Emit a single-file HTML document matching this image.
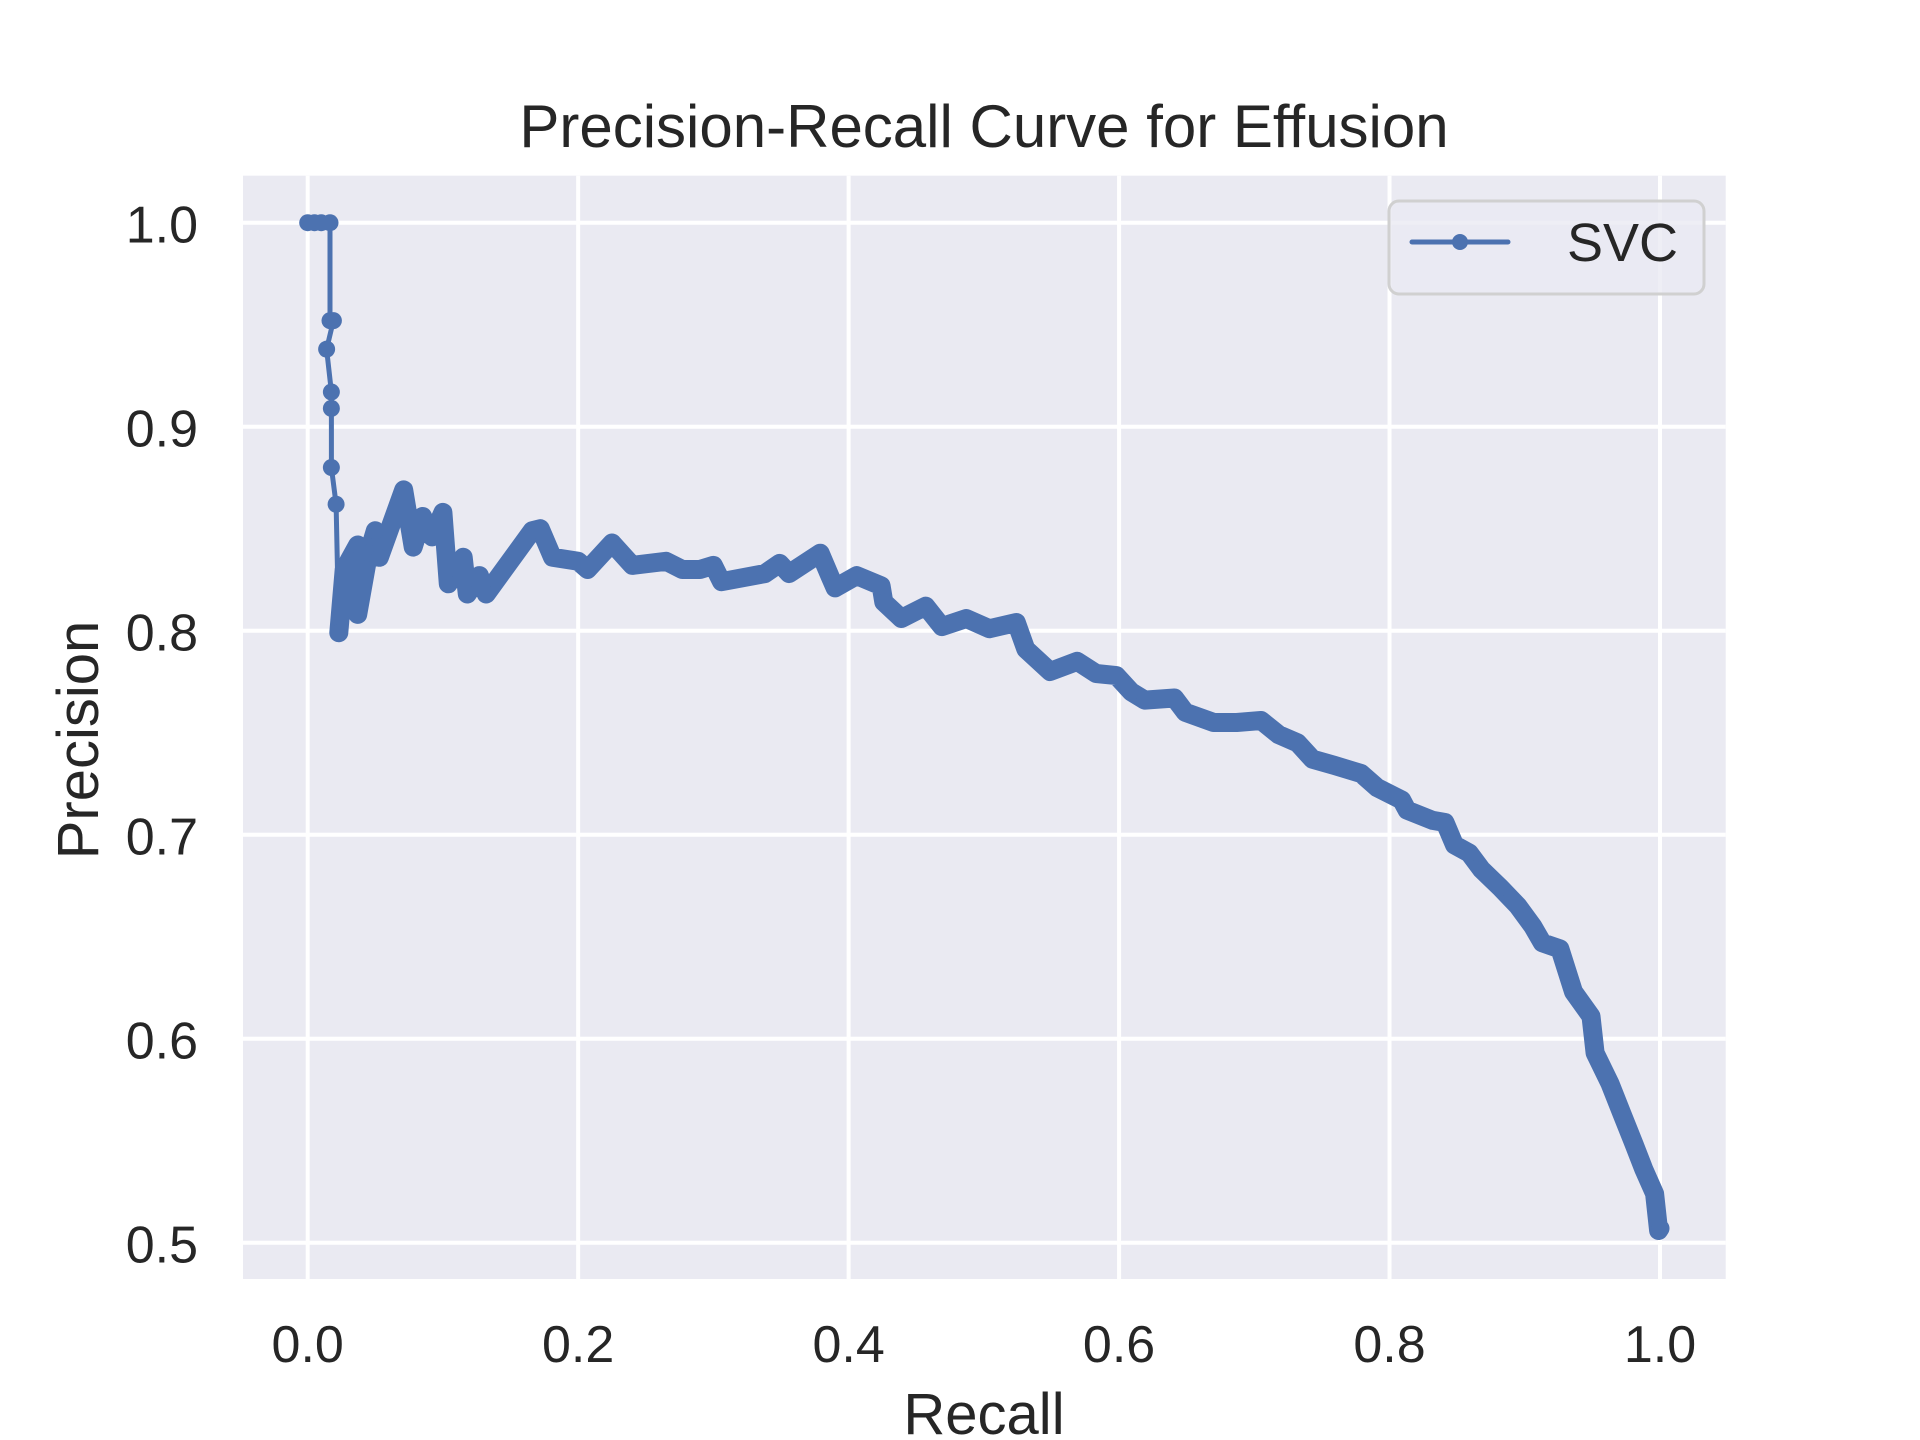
<!DOCTYPE html>
<html><head><meta charset="utf-8">
<style>
html,body{margin:0;padding:0;background:#fff;}
svg{display:block;font-family:"Liberation Sans",Arial,sans-serif;}
</style></head>
<body>
<svg id="chart" width="1920" height="1440" viewBox="0 0 1920 1440" xmlns="http://www.w3.org/2000/svg">
  <rect x="0" y="0" width="1920" height="1440" fill="#ffffff"/>
  <rect x="243" y="175.7" width="1482.7" height="1103.3" fill="#eaeaf2"/>
  <g id="grid"></g>
  <g id="ticks"></g>
  <g id="series"></g>
  <text x="984" y="147" font-size="60" fill="#262626" text-anchor="middle">Precision-Recall Curve for Effusion</text>
  <text x="984" y="1434" font-size="58" fill="#262626" text-anchor="middle">Recall</text>
  <text transform="translate(98,740) rotate(-90)" font-size="58" fill="#262626" text-anchor="middle">Precision</text>
  <g>
    <rect x="1389" y="201" width="315" height="93" rx="10" fill="#eaeaf2" fill-opacity="0.8" stroke="#d0d0d0" stroke-width="3"/>
    <line x1="1412" y1="242" x2="1508" y2="242" stroke="#4c72b0" stroke-width="5" stroke-linecap="round"/>
    <circle cx="1460" cy="242" r="8" fill="#4c72b0"/>
    <text x="1567" y="261" font-size="54" fill="#262626">SVC</text>
  </g>
</svg>
<script>
const xTicks = [0.0, 0.2, 0.4, 0.6, 0.8, 1.0];
const xTickLabels = ["0.0", "0.2", "0.4", "0.6", "0.8", "1.0"];
const yTicks = [0.5, 0.6, 0.7, 0.8, 0.9, 1.0];
const yTickLabels = ["0.5", "0.6", "0.7", "0.8", "0.9", "1.0"];
const recall = [0, 0.005, 0.010, 0.0165, 0.0165, 0.019, 0.014, 0.0175, 0.0175, 0.0175, 0.021, 0.023, 0.027, 0.037, 0.030, 0.040, 0.037, 0.045, 0.050, 0.053, 0.071, 0.078, 0.085, 0.092, 0.100, 0.104, 0.115, 0.118, 0.127, 0.132, 0.166, 0.172, 0.181, 0.200, 0.207, 0.225, 0.240, 0.265, 0.277, 0.290, 0.300, 0.306, 0.338, 0.349, 0.356, 0.379, 0.386, 0.390, 0.406, 0.424, 0.426, 0.439, 0.457, 0.469, 0.487, 0.504, 0.524, 0.531, 0.549, 0.569, 0.583, 0.598, 0.609, 0.619, 0.641, 0.649, 0.670, 0.687, 0.705, 0.718, 0.732, 0.743, 0.759, 0.779, 0.791, 0.809, 0.813, 0.832, 0.841, 0.848, 0.859, 0.868, 0.882, 0.895, 0.906, 0.913, 0.926, 0.936, 0.949, 0.952, 0.963, 0.972, 0.981, 0.988, 0.996, 0.999, 1.000];
const precision = [1.0, 1.0, 1.0, 1.0, 0.952, 0.952, 0.938, 0.917, 0.909, 0.880, 0.862, 0.799, 0.830, 0.842, 0.815, 0.835, 0.808, 0.838, 0.849, 0.836, 0.869, 0.841, 0.856, 0.846, 0.858, 0.823, 0.836, 0.818, 0.827, 0.818, 0.849, 0.850, 0.836, 0.834, 0.830, 0.843, 0.832, 0.834, 0.830, 0.830, 0.832, 0.824, 0.828, 0.833, 0.828, 0.838, 0.827, 0.821, 0.827, 0.822, 0.814, 0.806, 0.812, 0.802, 0.806, 0.801, 0.804, 0.791, 0.780, 0.785, 0.779, 0.778, 0.770, 0.766, 0.767, 0.760, 0.755, 0.755, 0.756, 0.749, 0.745, 0.737, 0.734, 0.730, 0.723, 0.717, 0.712, 0.707, 0.706, 0.695, 0.691, 0.683, 0.674, 0.665, 0.655, 0.647, 0.644, 0.623, 0.611, 0.593, 0.578, 0.563, 0.548, 0.536, 0.524, 0.506, 0.507];

const NS = "http://www.w3.org/2000/svg";
const X0 = 307.7, XS = 1352.3, Y1 = 222.7, YS = 2040;
function xs(v){ return X0 + v * XS; }
function ys(v){ return Y1 + (1 - v) * YS; }
const grid = document.getElementById('grid');
const ticks = document.getElementById('ticks');
xTicks.forEach((t, i) => {
  const l = document.createElementNS(NS, 'line');
  l.setAttribute('x1', xs(t)); l.setAttribute('x2', xs(t));
  l.setAttribute('y1', 175.7); l.setAttribute('y2', 1279);
  l.setAttribute('stroke', '#ffffff'); l.setAttribute('stroke-width', 4);
  
  
  grid.appendChild(l);
  const tx = document.createElementNS(NS, 'text');
  tx.setAttribute('x', xs(t)); tx.setAttribute('y', 1362);
  tx.setAttribute('font-size', 52); tx.setAttribute('fill', '#262626');
  tx.setAttribute('text-anchor', 'middle');
  tx.textContent = xTickLabels[i];
  
  
  ticks.appendChild(tx);
});
yTicks.forEach((t, i) => {
  const l = document.createElementNS(NS, 'line');
  l.setAttribute('x1', 243); l.setAttribute('x2', 1725.7);
  l.setAttribute('y1', ys(t)); l.setAttribute('y2', ys(t));
  l.setAttribute('stroke', '#ffffff'); l.setAttribute('stroke-width', 4);
  
  
  grid.appendChild(l);
  const tx = document.createElementNS(NS, 'text');
  tx.setAttribute('x', 198); tx.setAttribute('y', ys(t) + 20);
  tx.setAttribute('font-size', 52); tx.setAttribute('fill', '#262626');
  tx.setAttribute('text-anchor', 'end');
  tx.textContent = yTickLabels[i];
  
  
  ticks.appendChild(tx);
});
const series = document.getElementById('series');
const pts = recall.map((r, i) => xs(r).toFixed(1) + ',' + ys(precision[i]).toFixed(1));
const thin = document.createElementNS(NS, 'polyline');
thin.setAttribute('points', pts.join(' '));
thin.setAttribute('fill', 'none'); thin.setAttribute('stroke', '#4c72b0');
thin.setAttribute('stroke-width', 5); thin.setAttribute('stroke-linejoin', 'round');


series.appendChild(thin);
const band = document.createElementNS(NS, 'polyline');
band.setAttribute('points', pts.slice(11).join(' '));
band.setAttribute('fill', 'none'); band.setAttribute('stroke', '#4c72b0');
band.setAttribute('stroke-width', 19); band.setAttribute('stroke-linejoin', 'round');
band.setAttribute('stroke-linecap', 'round');


series.appendChild(band);
recall.forEach((r, i) => {
  const c = document.createElementNS(NS, 'circle');
  c.setAttribute('cx', xs(r)); c.setAttribute('cy', ys(precision[i]));
  c.setAttribute('r', 8.5); c.setAttribute('fill', '#4c72b0');
  
  
  series.appendChild(c);
});
</script>
</body></html>
